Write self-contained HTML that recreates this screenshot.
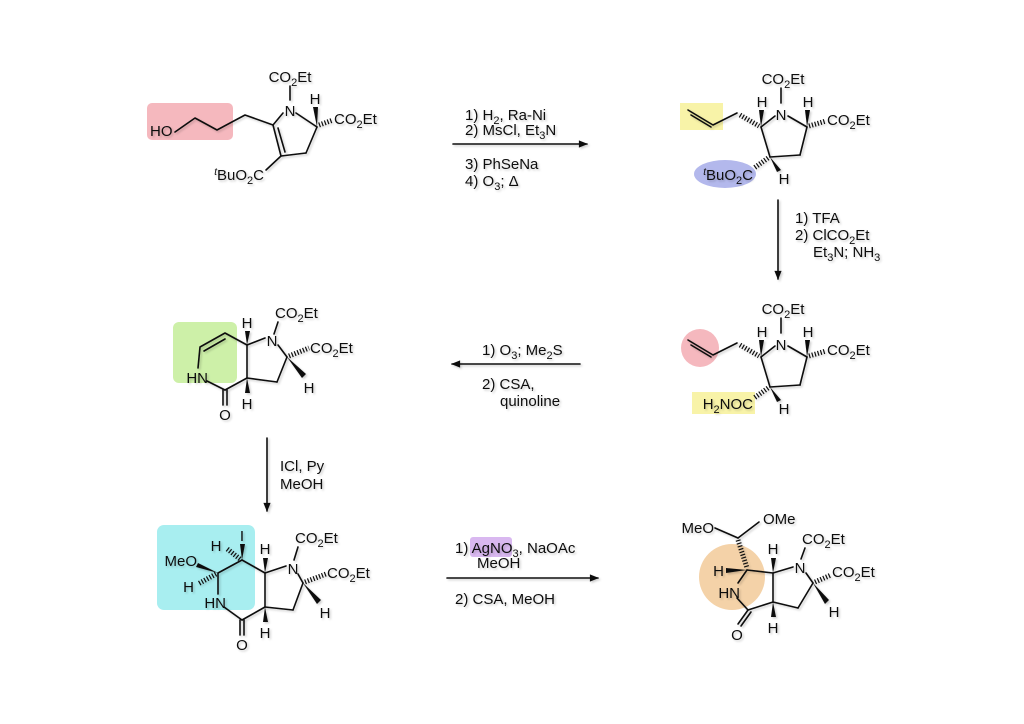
<!DOCTYPE html>
<html><head><meta charset="utf-8"><style>
html,body{margin:0;padding:0;background:#fff;}
svg{display:block;}
text{font-family:"Liberation Sans",Arial,sans-serif;font-size:15px;fill:#111;}
.m{text-anchor:middle;}
.e{text-anchor:end;}
.b{stroke:#111;stroke-width:1.6;fill:none;stroke-linecap:round;stroke-linejoin:round;}
.h{stroke:#111;stroke-width:5;stroke-dasharray:1.2 1.8;fill:none;}
.w{fill:#111;}
</style></head><body>
<svg width="1024" height="724" viewBox="0 0 1024 724" xmlns="http://www.w3.org/2000/svg">
<defs>
<filter id="sh" x="-10%" y="-10%" width="130%" height="130%"><feDropShadow dx="1.5" dy="1.5" stdDeviation="1" flood-color="#000" flood-opacity="0.2"/></filter>
<marker id="ar" viewBox="0 0 10 10" refX="9" refY="5" markerWidth="12" markerHeight="9" orient="auto" markerUnits="userSpaceOnUse"><path d="M0,1 L10,5 L0,9 Z" fill="#111"/></marker>
</defs>

<rect x="147" y="103" width="86" height="37" rx="5" fill="#f5b8be"/>
<rect x="680" y="103" width="43" height="27" fill="#f8f3a8"/>
<ellipse cx="725" cy="174" rx="31" ry="14" fill="#b3b8ec"/>
<circle cx="700" cy="348" r="19" fill="#f5b8be"/>
<rect x="692" y="392" width="63" height="22" fill="#f8f3a8"/>
<rect x="173" y="322" width="64" height="61" rx="6" fill="#cdf0a8"/>
<rect x="157" y="525" width="98" height="85" rx="7" fill="#a8eef0"/>
<circle cx="732" cy="577" r="33" fill="#f4d2a8"/>
<rect x="470" y="537" width="42" height="20" rx="3" fill="#d9b8f0"/>

<g filter="url(#sh)">
<!-- Structure 1 -->
<text x="150" y="136">HO</text>
<polyline class="b" points="175,132 195,118 217,130 245,115 273,125"/>
<text class="m" x="290" y="116">N</text>
<text class="m" x="290" y="82">CO<tspan dy="4" font-size="11">2</tspan><tspan dy="-4">Et</tspan></text>
<line class="b" x1="290" y1="86" x2="290" y2="100"/>
<line class="b" x1="283" y1="113" x2="273" y2="125"/>
<line class="b" x1="296" y1="113" x2="317" y2="127"/>
<line class="b" x1="273" y1="125" x2="281" y2="156"/>
<line class="b" x1="278" y1="128" x2="285" y2="152"/>
<line class="b" x1="281" y1="156" x2="306" y2="153"/>
<line class="b" x1="306" y1="153" x2="317" y2="127"/>
<line class="b" x1="281" y1="156" x2="266" y2="170"/>
<text class="e" x="264" y="180"><tspan font-size="10" dy="-5" font-style="italic">t</tspan><tspan dy="5">BuO</tspan><tspan dy="4" font-size="11">2</tspan><tspan dy="-4">C</tspan></text>
<text class="m" x="315" y="104">H</text>
<polygon class="w" points="317,127 313,107 318,107"/>
<line class="h" x1="319" y1="125" x2="333" y2="120"/>
<text x="334" y="124">CO<tspan dy="4" font-size="11">2</tspan><tspan dy="-4">Et</tspan></text>

<!-- Arrow 1 -->
<line class="b" x1="453" y1="144" x2="587" y2="144" marker-end="url(#ar)"/>
<text x="465" y="120">1) H<tspan dy="4" font-size="11">2</tspan><tspan dy="-4">, Ra-Ni</tspan></text>
<text x="465" y="135">2) MsCl, Et<tspan dy="4" font-size="11">3</tspan><tspan dy="-4">N</tspan></text>
<text x="465" y="169">3) PhSeNa</text>
<text x="465" y="186">4) O<tspan dy="4" font-size="11">3</tspan><tspan dy="-4">; Δ</tspan></text>

<!-- Structure 2 -->
<polyline class="b" points="688,110 713,125 737,113"/>
<line class="b" x1="691" y1="115" x2="711" y2="127"/>
<line class="h" x1="740" y1="115" x2="759" y2="126"/>
<text class="m" x="781" y="120">N</text>
<text class="m" x="783" y="84">CO<tspan dy="4" font-size="11">2</tspan><tspan dy="-4">Et</tspan></text>
<line class="b" x1="781" y1="88" x2="781" y2="103"/>
<line class="b" x1="775" y1="116" x2="761" y2="127"/>
<line class="b" x1="788" y1="116" x2="807" y2="127"/>
<line class="b" x1="761" y1="127" x2="770" y2="157"/>
<line class="b" x1="770" y1="157" x2="800" y2="155"/>
<line class="b" x1="800" y1="155" x2="807" y2="127"/>
<text class="m" x="762" y="107">H</text>
<polygon class="w" points="761,127 759,110 764,110"/>
<text class="m" x="808" y="107">H</text>
<polygon class="w" points="807,127 805,110 810,110"/>
<line class="h" x1="809" y1="126" x2="826" y2="121"/>
<text x="827" y="125">CO<tspan dy="4" font-size="11">2</tspan><tspan dy="-4">Et</tspan></text>
<line class="h" x1="768" y1="158" x2="754" y2="168"/>
<polygon class="w" points="770,157 781,170 777,172"/>
<text class="m" x="784" y="184">H</text>
<text class="e" x="753" y="180"><tspan font-size="10" dy="-5" font-style="italic">t</tspan><tspan dy="5">BuO</tspan><tspan dy="4" font-size="11">2</tspan><tspan dy="-4">C</tspan></text>

<!-- Arrow 2 -->
<line class="b" x1="778" y1="200" x2="778" y2="279" marker-end="url(#ar)"/>
<text x="795" y="223">1) TFA</text>
<text x="795" y="240">2) ClCO<tspan dy="4" font-size="11">2</tspan><tspan dy="-4">Et</tspan></text>
<text x="813" y="257">Et<tspan dy="4" font-size="11">3</tspan><tspan dy="-4">N; NH</tspan><tspan dy="4" font-size="11">3</tspan></text>

<!-- Structure 3 -->
<polyline class="b" points="688,340 713,355 737,343"/>
<line class="b" x1="691" y1="345" x2="711" y2="357"/>
<line class="h" x1="740" y1="345" x2="759" y2="356"/>
<text class="m" x="781" y="350">N</text>
<text class="m" x="783" y="314">CO<tspan dy="4" font-size="11">2</tspan><tspan dy="-4">Et</tspan></text>
<line class="b" x1="781" y1="318" x2="781" y2="333"/>
<line class="b" x1="775" y1="346" x2="761" y2="357"/>
<line class="b" x1="788" y1="346" x2="807" y2="357"/>
<line class="b" x1="761" y1="357" x2="770" y2="387"/>
<line class="b" x1="770" y1="387" x2="800" y2="385"/>
<line class="b" x1="800" y1="385" x2="807" y2="357"/>
<text class="m" x="762" y="337">H</text>
<polygon class="w" points="761,357 759,340 764,340"/>
<text class="m" x="808" y="337">H</text>
<polygon class="w" points="807,357 805,340 810,340"/>
<line class="h" x1="809" y1="356" x2="826" y2="351"/>
<text x="827" y="355">CO<tspan dy="4" font-size="11">2</tspan><tspan dy="-4">Et</tspan></text>
<line class="h" x1="768" y1="388" x2="754" y2="398"/>
<polygon class="w" points="770,387 781,400 777,402"/>
<text class="m" x="784" y="414">H</text>
<text class="e" x="753" y="409">H<tspan dy="4" font-size="11">2</tspan><tspan dy="-4">NOC</tspan></text>

<!-- Arrow 3 -->
<line class="b" x1="580" y1="364" x2="452" y2="364" marker-end="url(#ar)"/>
<text x="482" y="355">1) O<tspan dy="4" font-size="11">3</tspan><tspan dy="-4">; Me</tspan><tspan dy="4" font-size="11">2</tspan><tspan dy="-4">S</tspan></text>
<text x="482" y="389">2) CSA,</text>
<text x="500" y="406">quinoline</text>

<!-- Structure 4 -->
<polyline class="b" points="247,345 225,333 200,347 198,368"/>
<line class="b" x1="225" y1="339" x2="204" y2="351"/>
<text class="e" x="208" y="383">HN</text>
<line class="b" x1="207" y1="381" x2="225" y2="390"/>
<line class="b" x1="225" y1="390" x2="247" y2="378"/>
<line class="b" x1="223" y1="390" x2="223" y2="405"/>
<line class="b" x1="227" y1="390" x2="227" y2="405"/>
<text class="m" x="225" y="420">O</text>
<line class="b" x1="247" y1="345" x2="247" y2="378"/>
<line class="b" x1="247" y1="345" x2="265" y2="338"/>
<text class="m" x="272" y="346">N</text>
<line class="b" x1="278" y1="345" x2="287" y2="357"/>
<line class="b" x1="287" y1="357" x2="277" y2="382"/>
<line class="b" x1="277" y1="382" x2="247" y2="378"/>
<text x="275" y="318">CO<tspan dy="4" font-size="11">2</tspan><tspan dy="-4">Et</tspan></text>
<line class="b" x1="278" y1="322" x2="274" y2="334"/>
<line class="h" x1="289" y1="356" x2="309" y2="348"/>
<text x="310" y="353">CO<tspan dy="4" font-size="11">2</tspan><tspan dy="-4">Et</tspan></text>
<polygon class="w" points="287,357 306,374 302,378"/>
<text class="m" x="309" y="393">H</text>
<text class="m" x="247" y="328">H</text>
<polygon class="w" points="247,345 245,331 250,331"/>
<polygon class="w" points="247,378 245,393 250,393"/>
<text class="m" x="247" y="409">H</text>

<!-- Arrow 4 -->
<line class="b" x1="267" y1="438" x2="267" y2="511" marker-end="url(#ar)"/>
<text x="280" y="471">ICl, Py</text>
<text x="280" y="489">MeOH</text>

<!-- Structure 5 -->
<text class="m" x="242" y="541">I</text>
<polygon class="w" points="242,560 240,544 245,544"/>
<text class="m" x="216" y="551">H</text>
<line class="h" x1="240" y1="559" x2="226" y2="548"/>
<line class="b" x1="242" y1="560" x2="218" y2="573"/>
<line class="b" x1="242" y1="560" x2="265" y2="573"/>
<text class="e" x="197" y="566">MeO</text>
<polygon class="w" points="218,573 198,563 196,567"/>
<text class="e" x="194" y="592">H</text>
<line class="h" x1="216" y1="574" x2="198" y2="584"/>
<line class="b" x1="218" y1="573" x2="218" y2="594"/>
<text class="e" x="226" y="608">HN</text>
<line class="b" x1="224" y1="607" x2="242" y2="620"/>
<line class="b" x1="242" y1="620" x2="265" y2="607"/>
<line class="b" x1="240" y1="620" x2="240" y2="635"/>
<line class="b" x1="244" y1="620" x2="244" y2="635"/>
<text class="m" x="242" y="650">O</text>
<line class="b" x1="265" y1="573" x2="265" y2="607"/>
<line class="b" x1="265" y1="573" x2="286" y2="566"/>
<text class="m" x="293" y="574">N</text>
<line class="b" x1="298" y1="574" x2="303" y2="583"/>
<line class="b" x1="303" y1="583" x2="293" y2="610"/>
<line class="b" x1="293" y1="610" x2="265" y2="607"/>
<text x="295" y="543">CO<tspan dy="4" font-size="11">2</tspan><tspan dy="-4">Et</tspan></text>
<line class="b" x1="298" y1="547" x2="294" y2="560"/>
<line class="h" x1="305" y1="582" x2="326" y2="574"/>
<text x="327" y="578">CO<tspan dy="4" font-size="11">2</tspan><tspan dy="-4">Et</tspan></text>
<polygon class="w" points="303,583 321,600 317,604"/>
<text class="m" x="325" y="618">H</text>
<text class="m" x="265" y="554">H</text>
<polygon class="w" points="265,573 263,558 268,558"/>
<polygon class="w" points="265,607 263,622 268,622"/>
<text class="m" x="265" y="638">H</text>

<!-- Arrow 5 -->
<line class="b" x1="447" y1="578" x2="598" y2="578" marker-end="url(#ar)"/>
<text x="455" y="553">1) AgNO<tspan dy="4" font-size="11">3</tspan><tspan dy="-4">, NaOAc</tspan></text>
<text x="477" y="568">MeOH</text>
<text x="455" y="604">2) CSA, MeOH</text>

<!-- Structure 6 -->
<text class="e" x="714" y="533">MeO</text>
<text x="763" y="524">OMe</text>
<line class="b" x1="715" y1="528" x2="738" y2="538"/>
<line class="b" x1="738" y1="538" x2="759" y2="522"/>
<line class="h" x1="738" y1="540" x2="747" y2="568"/>
<text class="e" x="724" y="576">H</text>
<polygon class="w" points="747,570 726,568 726,573"/>
<line class="b" x1="747" y1="570" x2="773" y2="573"/>
<line class="b" x1="747" y1="570" x2="738" y2="583"/>
<text class="e" x="740" y="598">HN</text>
<line class="b" x1="737" y1="598" x2="748" y2="610"/>
<line class="b" x1="748" y1="610" x2="773" y2="602"/>
<line class="b" x1="748" y1="610" x2="738" y2="624"/>
<line class="b" x1="751" y1="612" x2="741" y2="626"/>
<text class="m" x="737" y="640">O</text>
<line class="b" x1="773" y1="573" x2="773" y2="602"/>
<line class="b" x1="773" y1="573" x2="793" y2="567"/>
<text class="m" x="800" y="573">N</text>
<line class="b" x1="806" y1="573" x2="813" y2="583"/>
<line class="b" x1="813" y1="583" x2="798" y2="608"/>
<line class="b" x1="798" y1="608" x2="773" y2="602"/>
<text x="802" y="544">CO<tspan dy="4" font-size="11">2</tspan><tspan dy="-4">Et</tspan></text>
<line class="b" x1="805" y1="548" x2="801" y2="559"/>
<line class="h" x1="815" y1="582" x2="831" y2="575"/>
<text x="832" y="577">CO<tspan dy="4" font-size="11">2</tspan><tspan dy="-4">Et</tspan></text>
<polygon class="w" points="813,583 829,600 825,604"/>
<text class="m" x="834" y="617">H</text>
<text class="m" x="773" y="554">H</text>
<polygon class="w" points="773,573 771,558 776,558"/>
<polygon class="w" points="773,602 771,617 776,617"/>
<text class="m" x="773" y="633">H</text>
</g>
</svg>
</body></html>
